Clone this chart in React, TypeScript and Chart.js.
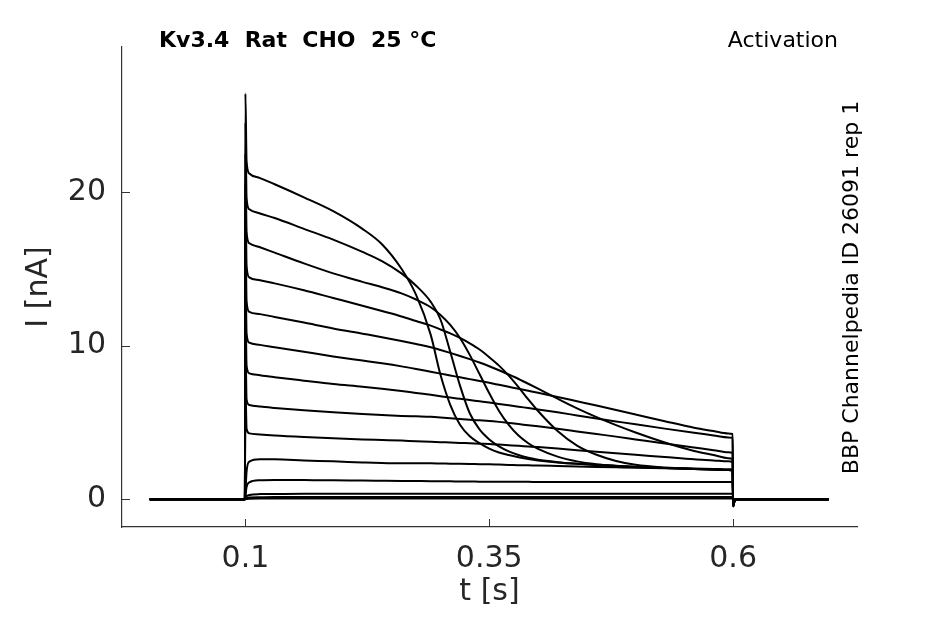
import React, { useEffect, useRef } from "react";
import { Chart, registerables } from "chart.js";

Chart.register(...registerables);

// time grid [s] shared by all sweeps
const timeS = [0.002, 0.0995, 0.1, 0.1012, 0.104, 0.115, 0.13, 0.16, 0.19, 0.22, 0.24, 0.26, 0.275, 0.29, 0.30, 0.31, 0.32, 0.33, 0.34, 0.35, 0.36, 0.37, 0.38, 0.39, 0.40, 0.42, 0.44, 0.46, 0.48, 0.50, 0.53, 0.56, 0.58, 0.595, 0.5995, 0.6, 0.6015, 0.604, 0.698];

// current sweeps [nA]
const sweep1 = [0, 0, 26.4, 22.0, 21.2, 20.9, 20.5, 19.65, 18.75, 17.6, 16.6, 15.0, 13.3, 10.7, 8.1, 6.15, 4.85, 4.1, 3.66, 3.3, 3.05, 2.88, 2.74, 2.62, 2.53, 2.4, 2.31, 2.24, 2.17, 2.11, 2.04, 1.98, 1.94, 1.91, 1.9, -0.45, -0.1, 0, 0];
const sweep2 = [0, 0, 24.5, 19.6, 18.87, 18.6, 18.3, 17.6, 16.9, 16.1, 15.5, 14.7, 13.9, 12.85, 11.7, 9.6, 7.4, 5.6, 4.55, 3.9, 3.45, 3.12, 2.88, 2.7, 2.57, 2.42, 2.32, 2.24, 2.17, 2.11, 2.04, 1.98, 1.94, 1.91, 1.9, -0.45, -0.1, 0, 0];
const sweep3 = [0, 0, 22.5, 17.4, 16.66, 16.4, 16.05, 15.35, 14.7, 14.15, 13.8, 13.4, 13.0, 12.5, 12.0, 11.35, 10.5, 9.4, 8.15, 6.9, 5.75, 4.85, 4.15, 3.65, 3.28, 2.78, 2.47, 2.29, 2.19, 2.12, 2.04, 1.98, 1.94, 1.91, 1.9, -0.45, -0.1, 0, 0];
const sweep4 = [0, 0, 20.5, 15.2, 14.44, 14.25, 14.05, 13.6, 13.1, 12.6, 12.25, 11.9, 11.6, 11.3, 11.05, 10.8, 10.5, 10.15, 9.75, 9.25, 8.7, 8.05, 7.3, 6.5, 5.75, 4.45, 3.5, 2.9, 2.5, 2.25, 2.07, 1.98, 1.94, 1.91, 1.9, -0.45, -0.1, 0, 0];
const sweep5 = [0, 0, 18.0, 12.9, 12.2, 12.05, 11.87, 11.5, 11.12, 10.78, 10.55, 10.3, 10.1, 9.9, 9.72, 9.53, 9.33, 9.12, 8.9, 8.66, 8.4, 8.12, 7.83, 7.52, 7.2, 6.55, 5.92, 5.35, 4.83, 4.35, 3.7, 3.15, 2.88, 2.68, 2.62, -0.45, -0.1, 0, 0];
const sweep6 = [0, 0, 15.5, 10.8, 10.19, 10.05, 9.9, 9.6, 9.3, 9.03, 8.85, 8.65, 8.48, 8.3, 8.18, 8.06, 7.94, 7.82, 7.7, 7.58, 7.45, 7.32, 7.19, 7.06, 6.93, 6.66, 6.38, 6.1, 5.81, 5.52, 5.08, 4.66, 4.44, 4.28, 4.25, -0.4, -0.1, 0, 0];
const sweep7 = [0, 0, 13.0, 8.7, 8.2, 8.08, 7.95, 7.72, 7.5, 7.33, 7.2, 7.05, 6.92, 6.8, 6.71, 6.62, 6.54, 6.46, 6.38, 6.3, 6.21, 6.12, 6.03, 5.94, 5.85, 5.66, 5.46, 5.26, 5.07, 4.88, 4.6, 4.33, 4.16, 4.03, 4.0, -0.35, -0.1, 0, 0];
const sweep8 = [0, 0, 10.5, 6.5, 6.14, 6.04, 5.95, 5.8, 5.67, 5.55, 5.48, 5.43, 5.4, 5.37, 5.33, 5.28, 5.23, 5.18, 5.14, 5.1, 5.04, 4.97, 4.9, 4.82, 4.75, 4.59, 4.42, 4.25, 4.08, 3.9, 3.63, 3.37, 3.2, 3.06, 3.03, -0.3, -0.05, 0, 0];
const sweep9 = [0, 0, 7.5, 4.6, 4.29, 4.22, 4.15, 4.05, 3.97, 3.9, 3.86, 3.82, 3.78, 3.75, 3.72, 3.7, 3.67, 3.65, 3.62, 3.6, 3.56, 3.52, 3.48, 3.44, 3.4, 3.3, 3.2, 3.1, 3.0, 2.9, 2.75, 2.6, 2.53, 2.47, 2.45, -0.25, -0.05, 0, 0];
const sweep10 = [0, 0, 0.4, 1.8, 2.45, 2.6, 2.6, 2.53, 2.47, 2.4, 2.36, 2.34, 2.34, 2.34, 2.33, 2.32, 2.31, 2.3, 2.29, 2.28, 2.26, 2.24, 2.22, 2.21, 2.2, 2.17, 2.14, 2.11, 2.08, 2.05, 2.02, 2.0, 1.98, 1.96, 1.95, -0.2, -0.05, 0, 0];
const sweep11 = [0, 0, 0.2, 0.8, 1.1, 1.24, 1.26, 1.25, 1.24, 1.22, 1.21, 1.2, 1.19, 1.18, 1.17, 1.17, 1.16, 1.16, 1.15, 1.15, 1.15, 1.14, 1.14, 1.14, 1.13, 1.13, 1.13, 1.12, 1.12, 1.12, 1.12, 1.12, 1.12, 1.12, 1.12, -0.1, 0, 0, 0];
const sweep12 = [0, 0, 0.05, 0.2, 0.28, 0.34, 0.35, 0.36, 0.36, 0.36, 0.36, 0.36, 0.36, 0.36, 0.36, 0.36, 0.36, 0.36, 0.36, 0.36, 0.36, 0.36, 0.36, 0.36, 0.36, 0.36, 0.36, 0.36, 0.36, 0.36, 0.36, 0.36, 0.36, 0.36, 0.36, 0, 0, 0, 0];
const sweep13 = [0, 0, 0.02, 0.08, 0.12, 0.14, 0.15, 0.15, 0.15, 0.15, 0.15, 0.15, 0.15, 0.15, 0.15, 0.15, 0.15, 0.15, 0.15, 0.15, 0.15, 0.15, 0.15, 0.15, 0.15, 0.15, 0.15, 0.15, 0.15, 0.15, 0.15, 0.15, 0.15, 0.15, 0.15, 0, 0, 0, 0];
const sweep14 = [0, 0, 0, 0.02, 0.04, 0.05, 0.05, 0.05, 0.05, 0.05, 0.05, 0.05, 0.05, 0.05, 0.05, 0.05, 0.05, 0.05, 0.05, 0.05, 0.05, 0.05, 0.05, 0.05, 0.05, 0.05, 0.05, 0.05, 0.05, 0.05, 0.05, 0.05, 0.05, 0.05, 0.05, 0, 0, 0, 0];

const sweeps = [sweep1, sweep2, sweep3, sweep4, sweep5, sweep6, sweep7, sweep8, sweep9, sweep10, sweep11, sweep12, sweep13, sweep14];

const xTicks = [0.1, 0.35, 0.6];
const xTickLabels = ["0.1", "0.35", "0.6"];
const yTicks = [0, 10, 20];
const yTickLabels = ["0", "10", "20"];

const titleLeft = "Kv3.4  Rat  CHO  25 °C";
const titleRight = "Activation";
const sideLabel = "BBP Channelpedia ID 26091 rep 1";
const xLabel = "t [s]";
const yLabel = "I [nA]";

const AXIS_COLOR = "#333333";
const TEXT_COLOR = "#262626";
const FONT = '"DejaVu Sans", sans-serif';

const annotatePlugin = {
  id: "annotate",
  afterDraw(chart: any) {
    const ctx = chart.ctx as CanvasRenderingContext2D;
    const { left, bottom } = chart.chartArea;
    const xs = chart.scales.x;
    const ys = chart.scales.y;
    ctx.save();
    ctx.strokeStyle = AXIS_COLOR;
    ctx.lineWidth = 1;
    ctx.beginPath();
    xTicks.forEach((v) => {
      const px = Math.round(xs.getPixelForValue(v)) + 0.5;
      ctx.moveTo(px, bottom);
      ctx.lineTo(px, bottom - 8);
    });
    yTicks.forEach((v) => {
      const py = Math.round(ys.getPixelForValue(v)) + 0.5;
      ctx.moveTo(left, py);
      ctx.lineTo(left + 8, py);
    });
    ctx.stroke();

    ctx.fillStyle = "#000000";
    ctx.textBaseline = "alphabetic";
    ctx.font = `bold 22px ${FONT}`;
    ctx.textAlign = "left";
    ctx.fillText(titleLeft, 159, 47);

    ctx.font = `22px ${FONT}`;
    ctx.textAlign = "right";
    ctx.fillText(titleRight, 838, 47);

    ctx.translate(858, 287.5);
    ctx.rotate(-Math.PI / 2);
    ctx.font = `22px ${FONT}`;
    ctx.textAlign = "center";
    ctx.fillText(sideLabel, 0, 0);
    ctx.restore();
  },
};

export default function App() {
  const canvasRef = useRef<HTMLCanvasElement | null>(null);

  useEffect(() => {
    const canvas = canvasRef.current;
    if (!canvas) return;
    Chart.defaults.font.family = FONT;

    const datasets = sweeps.map((sw, k) => ({
      label: `sweep ${k + 1}`,
      data: timeS.map((t, i) => ({ x: t, y: sw[i] })),
      borderColor: "#000000",
      backgroundColor: "#000000",
      borderWidth: 2,
      pointRadius: 0,
      pointHoverRadius: 0,
      fill: false,
      cubicInterpolationMode: "monotone" as const,
    }));

    const chart = new Chart(canvas, {
      type: "line",
      data: { datasets },
      options: {
        animation: false,
        responsive: false,
        maintainAspectRatio: false,
        layout: { padding: { left: 0, top: 47, right: 88, bottom: 0 } },
        plugins: {
          legend: { display: false },
          tooltip: { enabled: false },
          title: { display: false },
        },
        scales: {
          x: {
            type: "linear",
            min: -0.0265,
            max: 0.727,
            afterFit: (scale: any) => {
              scale.height = 97;
            },
            afterBuildTicks: (scale: any) => {
              scale.ticks = xTicks.map((v) => ({ value: v }));
            },
            grid: { display: false, drawTicks: false },
            border: { display: true, color: AXIS_COLOR, width: 1.2 },
            ticks: {
              color: TEXT_COLOR,
              font: { size: 30, family: FONT },
              padding: 14,
              maxRotation: 0,
              autoSkip: false,
              callback: (v: any) => {
                const i = xTicks.findIndex((t) => Math.abs(t - Number(v)) < 1e-9);
                return i >= 0 ? xTickLabels[i] : "";
              },
            },
            title: {
              display: true,
              text: xLabel,
              color: TEXT_COLOR,
              font: { size: 30, family: FONT },
              padding: { top: 0, bottom: 14 },
            },
          },
          y: {
            type: "linear",
            min: -1.8,
            max: 29.43,
            afterFit: (scale: any) => {
              scale.width = 122;
            },
            afterBuildTicks: (scale: any) => {
              scale.ticks = yTicks.map((v) => ({ value: v }));
            },
            grid: { display: false, drawTicks: false },
            border: { display: true, color: AXIS_COLOR, width: 1.2 },
            ticks: {
              color: TEXT_COLOR,
              font: { size: 30, family: FONT },
              padding: 16,
              autoSkip: false,
              callback: (v: any) => {
                const i = yTicks.findIndex((t) => Math.abs(t - Number(v)) < 1e-9);
                return i >= 0 ? yTickLabels[i] : "";
              },
            },
            title: {
              display: true,
              text: yLabel,
              color: TEXT_COLOR,
              font: { size: 30, family: FONT },
              padding: { top: 21, bottom: 0 },
            },
          },
        },
      },
      plugins: [annotatePlugin],
    });

    return () => {
      chart.destroy();
    };
  }, []);

  return (
    <div style={{ position: "absolute", left: 0, top: 0, width: 945, height: 624, background: "#ffffff" }}>
      <canvas ref={canvasRef} width={945} height={624} style={{ width: 945, height: 624, display: "block" }} />
    </div>
  );
}
